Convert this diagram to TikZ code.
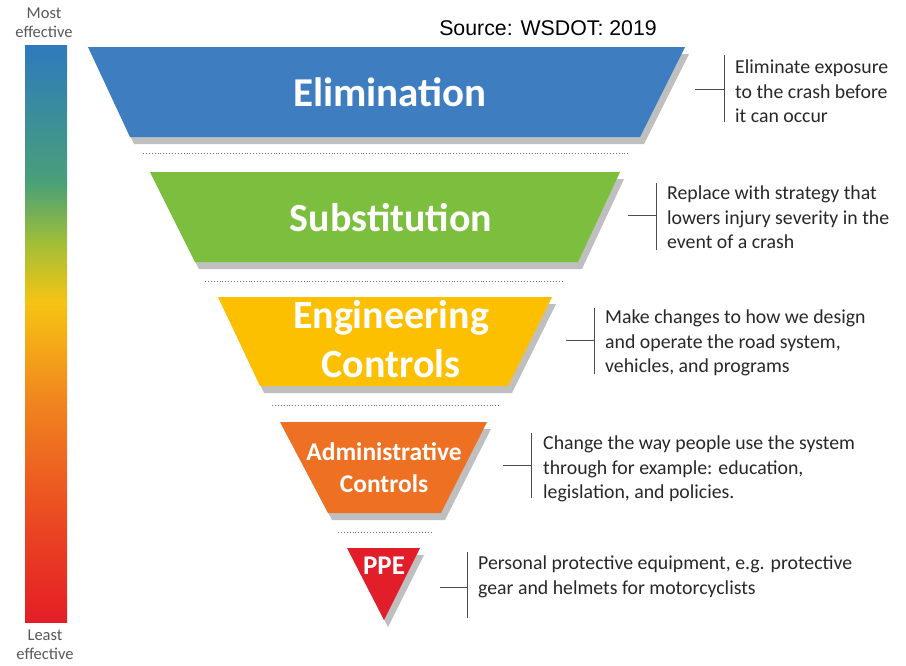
\documentclass[tikz,border=0pt]{standalone}
\usepackage{fontspec}
\setmainfont{Carlito}
\newfontfamily\arialf{Liberation Sans}
\definecolor{cblue}{RGB}{62,126,192}
\definecolor{cgreen}{RGB}{124,190,62}
\definecolor{cyellow}{RGB}{252,192,0}
\definecolor{corange}{RGB}{238,112,34}
\definecolor{cred}{RGB}{226,30,42}
\definecolor{txtgray}{RGB}{40,40,40}
\definecolor{sb0}{RGB}{228,30,38}
\definecolor{sb1}{RGB}{234,72,34}
\definecolor{sb2}{RGB}{240,132,30}
\definecolor{sb3}{RGB}{246,196,20}
\definecolor{sb4}{RGB}{160,190,55}
\definecolor{sb5}{RGB}{72,160,120}
\definecolor{sb6}{RGB}{46,122,190}
\tikzset{
  tiershadow/.style={fill=black!45, opacity=0.55},
  tierlabel/.style={text=white, font=\bfseries\fontsize{#1}{#1}\selectfont, inner sep=0pt},
  sep/.style={draw=black!55, dotted, line width=0.9pt},
  desc/.style={anchor=north west, align=left, inner sep=0pt, text=txtgray, font=\fontsize{19.8}{24.5}\selectfont},
  bracket/.style={draw=black!70, line width=1pt},
  endlabel/.style={text=black!65, align=center, inner sep=0pt, font=\fontsize{16.5}{19.5}\selectfont}
}
\begin{document}
\begin{tikzpicture}[x=1pt,y=-1pt]
\useasboundingbox (0,0) rectangle (906,665);
\fill[white] (0,0) rectangle (906,665);

% effectiveness bar
\shade[top color=sb6, bottom color=sb5] (25,45) rectangle (67,182.5);
\shade[top color=sb5, bottom color=sb4] (25,182) rectangle (67,242.5);
\shade[top color=sb4, bottom color=sb3] (25,242) rectangle (67,302.5);
\shade[top color=sb3, bottom color=sb2] (25,302) rectangle (67,402.5);
\shade[top color=sb2, bottom color=sb1] (25,402) rectangle (67,522.5);
\shade[top color=sb1, bottom color=sb0] (25,522) rectangle (67,622);
\node[endlabel] (most) at (44,23) {Most\\effective};
\node[endlabel] (least) at (45,645) {Least\\effective};

% source
\node[font=\arialf\fontsize{21.3}{22}\selectfont, inner sep=0pt] (src) at (548,28) {Source: WSDOT: 2019};

% tier 1 Elimination
\fill[tiershadow] (92,54) -- (689,54) -- (644,144) -- (134,144) -- cycle;
\fill[cblue] (88,47) -- (685,47) -- (640,137) -- (130,137) -- cycle;
\node[tierlabel=41] (elim) at (390,92) {Elimination};
\draw[sep] (143,153) -- (628,153);

% tier 2 Substitution
\fill[tiershadow] (154,179) -- (624,179) -- (582,269) -- (199,269) -- cycle;
\fill[cgreen] (150,172) -- (620,172) -- (578,262) -- (195,262) -- cycle;
\node[tierlabel=40] (subst) at (391,218) {Substitution};
\draw[sep] (205,281) -- (563,281);

% tier 3 Engineering
\fill[tiershadow] (222,304) -- (556,304) -- (512,393) -- (264,393) -- cycle;
\fill[cyellow] (218,297) -- (552,297) -- (508,386) -- (260,386) -- cycle;
\node[tierlabel=40] (eng1) at (391,318) {Engineering};
\node[tierlabel=40] (eng2) at (391,364) {Controls};
\draw[sep] (272,405) -- (500,405);

% tier 4 Administrative
\fill[tiershadow] (284,429) -- (491,429) -- (445,520) -- (332,520) -- cycle;
\fill[corange] (280,422) -- (487,422) -- (441,513) -- (328,513) -- cycle;
\node[tierlabel=25.5] (adm1) at (384,452) {Administrative};
\node[tierlabel=25.5] (adm2) at (384,484) {Controls};
\draw[sep] (338,532) -- (432,532);

% tier 5 PPE
\fill[tiershadow] (351,555) -- (424,555) -- (388,627) -- cycle;
\fill[cred] (347,548) -- (420,548) -- (384,620) -- cycle;
\node[tierlabel=27] (ppe) at (384,566) {PPE};

% descriptions
\node[desc] (d1) at (735,60) {Eliminate exposure\\to the crash before\\it can occur};
\draw[bracket] (724,55) -- (724,122);
\draw[bracket] (695,89) -- (724,89);

\node[desc] (d2) at (667,186) {Replace with strategy that\\lowers injury severity in the\\event of a crash};
\draw[bracket] (656,183) -- (656,250);
\draw[bracket] (628,215) -- (656,215);

\node[desc] (d3) at (605,310) {Make changes to how we design\\and operate the road system,\\vehicles, and programs};
\draw[bracket] (594,308) -- (594,374);
\draw[bracket] (566,340) -- (594,340);

\node[desc] (d4) at (543,436) {Change the way people use the system\\through for example: education,\\legislation, and policies.};
\draw[bracket] (531,433) -- (531,498);
\draw[bracket] (503,465) -- (531,465);

\node[desc] (d5) at (478,556) {Personal protective equipment, e.g. protective\\gear and helmets for motorcyclists};
\draw[bracket] (467,552) -- (467,618);
\draw[bracket] (440,587) -- (467,587);
\end{tikzpicture}
\end{document}
